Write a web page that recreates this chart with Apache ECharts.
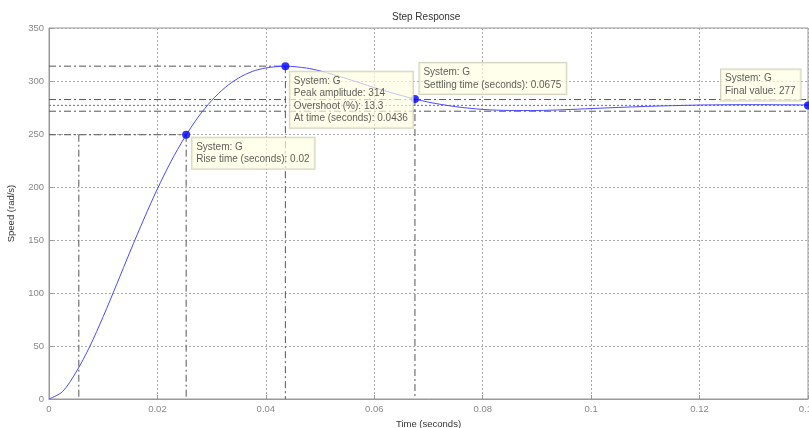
<!DOCTYPE html>
<html>
<head>
<meta charset="utf-8">
<script src="https://cdn.jsdelivr.net/npm/echarts@6/dist/echarts.min.js"></script>
<style>html,body{margin:0;padding:0;background:#fff}#c{width:809px;height:428px}</style>
</head>
<body>
<div id="c"></div>
<script>
// ---- data ----
const timeS = [0, 0.0025, 0.005, 0.0075, 0.01, 0.0125, 0.015, 0.0175, 0.02, 0.0225, 0.025, 0.0275, 0.03, 0.0325, 0.035, 0.0375, 0.04, 0.0436, 0.0475, 0.05, 0.055, 0.06, 0.065, 0.0675, 0.07, 0.075, 0.08, 0.085, 0.09, 0.095, 0.1, 0.11, 0.12, 0.13, 0.14];
const speed = [0, 7, 25.4, 49.3, 77.8, 108.4, 139.6, 169.8, 198.3, 224.1, 246.6, 265.9, 281.6, 293.9, 302.9, 309.0, 312.3, 314.0, 312.2, 309.5, 302.1, 293.8, 286.3, 283.0, 280.0, 275.8, 273.2, 272.2, 272.2, 272.9, 274.0, 276.0, 277.3, 277.7, 277.4];
const xTicks = [0, 0.02, 0.04, 0.06, 0.08, 0.1, 0.12, 0.14];
const yTicks = [0, 50, 100, 150, 200, 250, 300, 350];
const riseT10 = 0.0055, riseT90 = 0.0253, riseY = 249.3;
const peakT = 0.0436, peakY = 314;
const settleT = 0.0675, settleY = 283;
const finalT = 0.14, finalY = 277;
const bandHi = 282.5, bandLo = 271.5;
const annRise = ['System: G', 'Rise time (seconds): 0.02'];
const annPeak = ['System: G', 'Peak amplitude: 314', 'Overshoot (%): 13.3', 'At time (seconds): 0.0436'];
const annSettle = ['System: G', 'Settling time (seconds): 0.0675'];
const annFinal = ['System: G', 'Final value: 277'];

const chart = echarts.init(document.getElementById('c'));
const dashDot = { color: '#555', width: 1, type: [7, 3, 2, 3] };
function refLine(pts, style) {
  return { type: 'line', data: pts, symbol: 'none', silent: true, lineStyle: style, z: 2, animation: false };
}
const boxLabel = (lines, pos) => ({
  show: true,
  formatter: lines.join('\n'),
  position: pos,
  align: 'left',
  verticalAlign: 'top',
  fontFamily: 'Liberation Sans, Arial, sans-serif',
  fontSize: 10,
  lineHeight: 12.5,
  color: '#333',
  backgroundColor: 'rgba(255,255,225,0.85)',
  borderColor: '#c8c8b0',
  borderWidth: 1,
  padding: [3, 5, 3, 4]
});
function marker(pt, label) {
  return { type: 'scatter', data: [pt], symbol: 'circle', symbolSize: 8, itemStyle: { color: '#0000ff' }, label: label, z: 10, animation: false };
}

chart.setOption({
  animation: false,
  grid: { left: 49, right: 1, top: 28, bottom: 29, containLabel: false, outerBoundsMode: 'none', show: true, borderColor: '#999', borderWidth: 1 },
  graphic: [{ type: 'text', left: 392, top: 12, style: { text: 'Step Response', font: '10px "Liberation Sans", Arial, sans-serif', fill: '#333' } }],
  xAxis: {
    type: 'value', min: 0, max: 0.14, interval: 0.02,
    name: 'Time (seconds)', nameLocation: 'middle', nameGap: 17,
    nameTextStyle: { fontSize: 9.5, color: '#333', fontFamily: 'Liberation Sans, Arial' },
    axisLine: { lineStyle: { color: '#999' } },
    axisTick: { inside: true, length: 4, lineStyle: { color: '#999' } },
    axisLabel: { fontSize: 9.5, color: '#888', margin: 5, fontFamily: 'Liberation Sans, Arial', hideOverlap: false,
      formatter: v => { const t = xTicks.find(k => Math.abs(k - v) < 1e-9); return t === undefined ? '' : String(t); } },
    splitLine: { show: true, lineStyle: { color: '#aaa', type: [2, 2] } }
  },
  yAxis: {
    type: 'value', min: 0, max: 350, interval: 50,
    name: 'Speed (rad/s)', nameLocation: 'middle', nameGap: 33,
    nameTextStyle: { fontSize: 9.5, color: '#333', fontFamily: 'Liberation Sans, Arial' },
    axisLine: { show: true, lineStyle: { color: '#999' } },
    axisTick: { show: true, inside: true, length: 4, lineStyle: { color: '#999' } },
    axisLabel: { fontSize: 9.5, color: '#888', margin: 5, fontFamily: 'Liberation Sans, Arial',
      formatter: v => (yTicks.indexOf(v) >= 0 ? String(v) : '') },
    splitLine: { show: true, lineStyle: { color: '#aaa', type: [2, 2] } }
  },
  series: [
    refLine([[0, riseY], [riseT90, riseY]], dashDot),
    refLine([[riseT10, riseY], [riseT10, 0]], dashDot),
    refLine([[riseT90, riseY], [riseT90, 0]], dashDot),
    refLine([[0, peakY], [peakT, peakY]], dashDot),
    refLine([[peakT, peakY], [peakT, 0]], dashDot),
    refLine([[settleT, settleY], [settleT, 0]], dashDot),
    refLine([[0, bandHi], [finalT, bandHi]], dashDot),
    refLine([[0, bandLo], [finalT, bandLo]], dashDot),
    refLine([[0, finalY], [finalT, finalY]], { color: '#6a6aa0', width: 1, type: [2, 2] }),
    { type: 'line', data: timeS.map((t, i) => [t, speed[i]]), smooth: 0.3, symbol: 'none',
      lineStyle: { color: '#4a4aff', width: 1 }, z: 5, animation: false },
    marker([riseT90, riseY], boxLabel(annRise, [10, 7])),
    marker([peakT, peakY], boxLabel(annPeak, [8.5, 9.5])),
    marker([settleT, settleY], boxLabel(annSettle, [8.5, -32])),
    marker([finalT, finalY], boxLabel(annFinal, [-83, -32]))
  ]
});
</script>
</body>
</html>
